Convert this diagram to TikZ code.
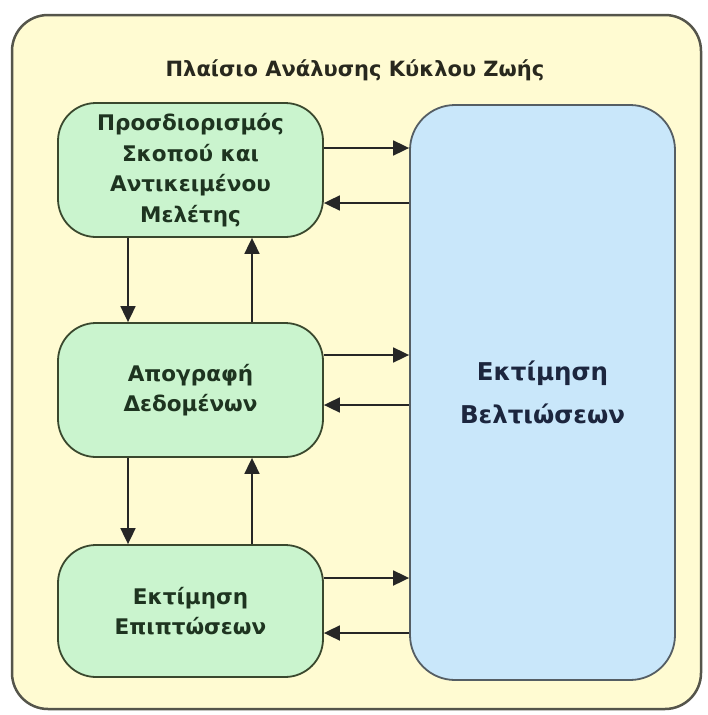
\documentclass[tikz,border=0pt]{standalone}
\usepackage{fontspec}
\setmainfont{DejaVu Sans}
\usetikzlibrary{arrows.meta}
\definecolor{framefill}{RGB}{255,251,210}
\definecolor{framedraw}{RGB}{85,85,75}
\definecolor{stagefill}{RGB}{202,244,206}
\definecolor{stagedraw}{RGB}{58,72,46}
\definecolor{stagetext}{RGB}{30,52,32}
\definecolor{evalfill}{RGB}{201,231,250}
\definecolor{evaldraw}{RGB}{85,94,100}
\definecolor{evaltext}{RGB}{28,38,62}
\definecolor{titletext}{RGB}{40,40,30}
\tikzset{
  stagebox/.style={draw=stagedraw, fill=stagefill, line width=1.8pt,
    rounded corners=38pt, minimum width=265pt, align=center,
    text=stagetext, font=\bfseries\fontsize{21.5}{30.5}\selectfont, inner sep=0pt},
  evalbox/.style={draw=evaldraw, fill=evalfill, line width=1.8pt,
    rounded corners=45pt, minimum width=265pt, minimum height=575pt,
    align=center, text=evaltext, font=\bfseries\fontsize{24.5}{43}\selectfont},
  flow/.style={draw=black!85, line width=1.8pt,
    -{Triangle[length=16pt,width=15pt]}}
}
\begin{document}
\begin{tikzpicture}[x=1pt,y=-1pt]
\useasboundingbox (0,0) rectangle (707,715);
% outer framework
\draw[fill=framefill, draw=framedraw, line width=2.5pt, rounded corners=36pt]
  (12,15) rectangle (701,709);
\node[text=titletext, font=\bfseries\fontsize{21}{24}\selectfont] (title) at (355,70)
  {Πλαίσιο Ανάλυσης Κύκλου Ζωής};
% stages
\node[stagebox, minimum height=134pt] (b1) at (190.5,170)
  {Προσδιορισμός\\Σκοπού και\\Αντικειμένου\\Μελέτης};
\node[stagebox, minimum height=134pt] (b2) at (190.5,390)
  {Απογραφή\\Δεδομένων};
\node[stagebox, minimum height=132pt] (b3) at (190.5,611)
  {Εκτίμηση\\Επιπτώσεων};
\node[evalbox] (rb) at (542.5,392.5) {Εκτίμηση\\Βελτιώσεων};
% vertical links between stages
\draw[flow] ([xshift=-62.5pt]b1.south) -- ([xshift=-62.5pt]b2.north);
\draw[flow] ([xshift=61.5pt]b2.north) -- ([xshift=61.5pt]b1.south);
\draw[flow] ([xshift=-62.5pt]b2.south) -- ([xshift=-62.5pt]b3.north);
\draw[flow] ([xshift=61.5pt]b3.north) -- ([xshift=61.5pt]b2.south);
% links to and from the improvement assessment
\draw[flow] ([yshift=22pt]b1.east) -- ([yshift=22pt]b1.east -| rb.west);
\draw[flow] ([yshift=-33pt]b1.east -| rb.west) -- ([yshift=-33pt]b1.east);
\draw[flow] ([yshift=35pt]b2.east) -- ([yshift=35pt]b2.east -| rb.west);
\draw[flow] ([yshift=-15pt]b2.east -| rb.west) -- ([yshift=-15pt]b2.east);
\draw[flow] ([yshift=33pt]b3.east) -- ([yshift=33pt]b3.east -| rb.west);
\draw[flow] ([yshift=-22pt]b3.east -| rb.west) -- ([yshift=-22pt]b3.east);
\end{tikzpicture}
\end{document}
